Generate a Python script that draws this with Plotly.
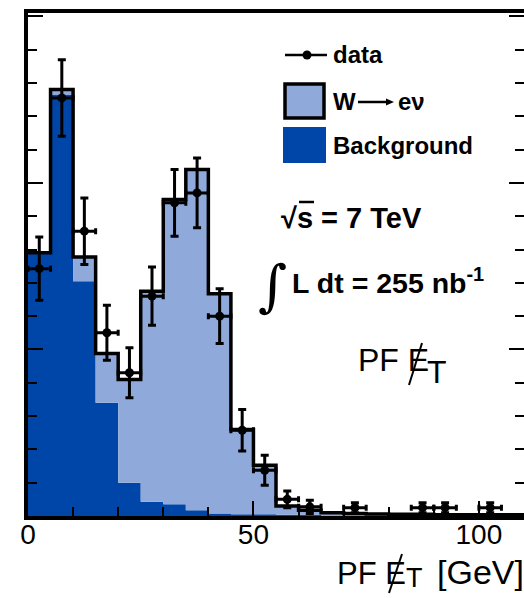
import plotly.graph_objects as go

# ---------------- data ----------------
bin_edges = [0, 5, 10, 15, 20, 25, 30, 35, 40, 45, 50, 55, 60, 65, 70, 75, 80, 85, 90, 95, 100, 105, 110]
background = [15.8, 25.3, 14.1, 6.8, 2.0, 0.85, 0.7, 0.35, 0.15, 0.1, 0.1, 0.08, 0.08, 0.03,
              0.0, 0.0, 0.0, 0.0, 0.0, 0.0, 0.0, 0.0]
w_signal = [0.0, 0.3, 1.45, 2.95, 6.2, 12.65, 18.3, 20.45, 13.2, 5.1, 2.95, 0.52, 0.27, 0.17,
            0.15, 0.12, 0.1, 0.1, 0.08, 0.08, 0.07, 0.07]
data_x = [2.5, 7.5, 12.5, 17.5, 22.5, 27.5, 32.5, 37.5, 42.5, 47.5, 52.5, 57.5, 62.5, 72.5, 87.5, 92.5, 102.5]
data_y = [14.85, 25.1, 17.1, 11.0, 8.6, 13.2, 18.8, 19.4, 12.0, 5.15, 2.75, 1.0, 0.55, 0.5, 0.5, 0.5, 0.5]
data_err = [1.9, 2.3, 2.0, 1.65, 1.5, 1.75, 2.0, 2.1, 1.65, 1.25, 0.9, 0.5, 0.4, 0.3, 0.3, 0.3, 0.3]
x_tick_vals = [0, 50, 100]
x_tick_text = ["0", "50", "100"]

DARK = "#0045A8"
LIGHT = "#8FAADA"
FONT = "Liberation Sans, Arial, Helvetica, sans-serif"

total = [b + w for b, w in zip(background, w_signal)]
bg_step = background + [background[-1]]
tot_step = total + [total[-1]]

fig = go.Figure()
fig.add_trace(go.Scatter(x=bin_edges, y=bg_step, mode="lines", line=dict(shape="hv", width=0, color=DARK),
                         fill="tozeroy", fillcolor=DARK, hoverinfo="skip", showlegend=False))
fig.add_trace(go.Scatter(x=bin_edges, y=tot_step, mode="lines", line=dict(shape="hv", width=0, color=LIGHT),
                         fill="tonexty", fillcolor=LIGHT, hoverinfo="skip", showlegend=False))
fig.add_trace(go.Scatter(x=bin_edges, y=tot_step, mode="lines", line=dict(shape="hv", width=3.5, color="black"),
                         hoverinfo="skip", showlegend=False))
fig.add_trace(go.Scatter(x=data_x, y=data_y, mode="markers",
                         marker=dict(color="black", size=9, symbol="circle"),
                         error_y=dict(type="data", array=data_err, visible=True, color="black", thickness=3, width=4),
                         error_x=dict(type="constant", value=2.5, visible=True, color="black", thickness=3, width=3),
                         showlegend=False))

# plot area pixel geometry
L, R, T, B = 28, 524, 13, 516
W_, H_ = 524, 598


def px(x, y):
    return (x - L) / (R - L), (B - y) / (B - T)


shapes = []


def pline(xa, ya, xb, yb, w=2.5):
    p0 = px(xa, ya)
    p1 = px(xb, yb)
    shapes.append(dict(type="line", xref="paper", yref="paper", x0=p0[0], y0=p0[1], x1=p1[0], y1=p1[1],
                       line=dict(color="black", width=w)))


# legend: data line
pline(285, 55, 327, 55)
r = 4.5
a0, b0 = px(307 - r, 55 + r)
a1, b1 = px(307 + r, 55 - r)
shapes.append(dict(type="circle", xref="paper", yref="paper", x0=a0, y0=b0, x1=a1, y1=b1,
                   fillcolor="black", line=dict(color="black", width=0)))
# legend: W box
a0, b0 = px(285, 118)
a1, b1 = px(324, 84)
shapes.append(dict(type="rect", xref="paper", yref="paper", x0=a0, y0=b0, x1=a1, y1=b1,
                   fillcolor=LIGHT, line=dict(color="black", width=3.5)))
# legend: Background box
a0, b0 = px(283, 163)
a1, b1 = px(326, 127)
shapes.append(dict(type="rect", xref="paper", yref="paper", x0=a0, y0=b0, x1=a1, y1=b1,
                   fillcolor=DARK, line=dict(color=DARK, width=0)))

annotations = []


def ann(text, x, y, size, bold=False, xanchor="left", family=FONT):
    ax, ay = px(x, y)
    annotations.append(dict(text=("<b>%s</b>" % text) if bold else text, x=ax, y=ay, xref="paper", yref="paper",
                            xanchor=xanchor, yanchor="middle", showarrow=False,
                            font=dict(family=family, size=size, color="black")))


ann("data", 331, 55, 24, bold=True)
ann("W", 331, 101, 24, bold=True)
ann("eν", 396, 101, 24, bold=True)
# arrow in "W -> e nu"
pline(358, 102, 388, 102, w=2.5)
shapes.append(dict(type="path", xref="paper", yref="paper",
                   path="M %f %f L %f %f L %f %f Z" % (px(386, 98.5) + px(394, 102) + px(386, 105.5)),
                   fillcolor="black", line=dict(color="black", width=0)))
ann("Background", 331, 145, 24, bold=True)
ann("√s = 7 TeV", 279, 218, 29, bold=True)
pline(299, 202, 314, 202, w=2.5)
ann("∫", 256, 285, 56, family="DejaVu Serif")
ann("L dt = 255 nb<sup>-1</sup>", 290, 281, 28.5, bold=True)

# in-plot "PF ET-miss" label
ann("PF E", 356, 360, 32)
ann("T", 425, 372, 32)
pline(409, 385, 422, 343, w=2)

# x-axis title
ann("PF E", 335, 573, 31)
ann("T", 404, 578, 27)
ann("[GeV]", 526, 572, 34, xanchor="right")
pline(389, 593, 402, 554, w=2)

fig.update_layout(
    width=W_, height=H_,
    margin=dict(l=L, r=W_ - R, t=T, b=H_ - B),
    paper_bgcolor="white", plot_bgcolor="white",
    showlegend=False,
    shapes=shapes, annotations=annotations,
    xaxis=dict(range=[0, 110], showgrid=False, zeroline=False, showline=True, mirror=True,
               linecolor="black", linewidth=4, ticks="inside", ticklen=15, tickwidth=2, tickcolor="black",
               tickvals=x_tick_vals, ticktext=x_tick_text, ticklabelstandoff=-10,
               minor=dict(ticks="inside", ticklen=9, tickwidth=2, tickcolor="black", dtick=10),
               tickfont=dict(family=FONT, size=28, color="black")),
    yaxis=dict(range=[0, 30.2], showgrid=False, zeroline=False, showline=True,
               linecolor="black", linewidth=4, ticks="inside", ticklen=15, tickwidth=2, tickcolor="black",
               dtick=10, tick0=0, showticklabels=False,
               minor=dict(ticks="inside", ticklen=9, tickwidth=2, tickcolor="black", dtick=2)),
    yaxis2=dict(range=[0, 30.2], overlaying="y", side="right", showgrid=False, zeroline=False, showline=False,
                ticks="inside", ticklen=15, tickwidth=2, tickcolor="black", dtick=10, tick0=0,
                showticklabels=False,
                minor=dict(ticks="inside", ticklen=9, tickwidth=2, tickcolor="black", dtick=2)),
)
fig.add_trace(go.Scatter(x=[None], y=[None], yaxis="y2", showlegend=False))
fig.write_html("out.html")
